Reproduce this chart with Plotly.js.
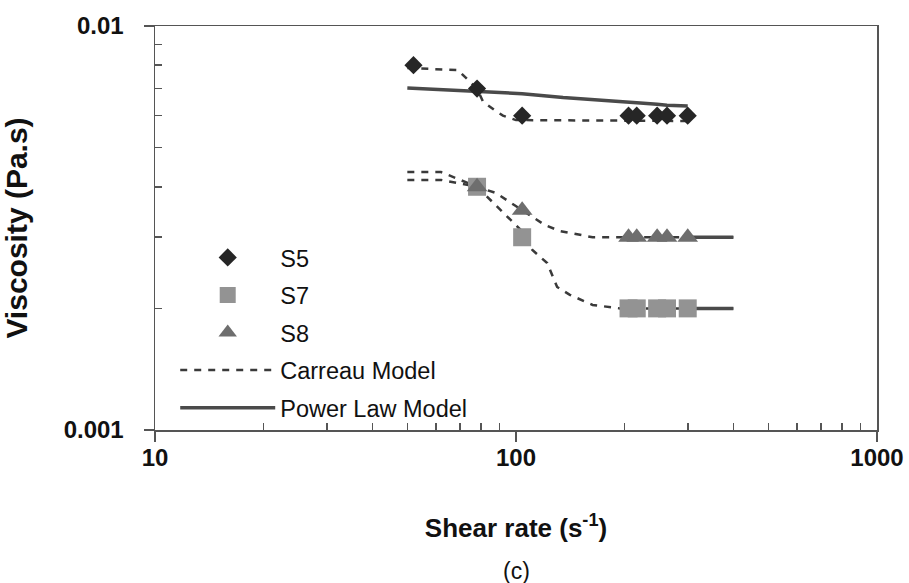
<!DOCTYPE html>
<html>
<head>
<meta charset="utf-8">
<script src="https://cdn.plot.ly/plotly-3.0.1.min.js"></script>
<style>html,body{margin:0;padding:0;background:#fff;}#chart{width:909px;height:583px;}</style>
</head>
<body>
<div id="chart"></div>
<script>
// Measured data (shear rate in 1/s, viscosity in Pa.s)
const shearS5 = [52, 78, 104, 205, 216, 246, 262, 299];
const viscS5  = [0.0080, 0.0070, 0.0060, 0.0060, 0.0060, 0.0060, 0.0060, 0.0060];
const shearS7 = [78, 104, 205, 216, 246, 262, 299];
const viscS7  = [0.0040, 0.0030, 0.0020, 0.0020, 0.0020, 0.0020, 0.0020];
const shearS8 = [78, 104, 205, 216, 246, 262, 299];
const viscS8  = [0.0040, 0.0035, 0.0030, 0.0030, 0.0030, 0.0030, 0.0030];

// Carreau model curves
const carreauS5X = [50, 69, 78, 81, 87, 92, 100, 303];
const carreauS5Y = [0.00787, 0.00778, 0.0070, 0.0065, 0.0062, 0.0060, 0.00585, 0.00582];
const carreauS7X = [50, 62, 78, 103, 111, 122, 130, 141, 163, 194, 400];
const carreauS7Y = [0.00416, 0.00416, 0.0040, 0.00313, 0.00279, 0.00259, 0.00226, 0.00216, 0.00204, 0.0020, 0.0020];
const carreauS8X = [50, 62, 78, 88, 104, 120, 132, 163, 400];
const carreauS8Y = [0.00435, 0.00435, 0.0040, 0.00386, 0.0035, 0.00322, 0.00311, 0.0030, 0.0030];

// Power law model curves
const powerS5X = [50, 78, 104, 135, 205, 216, 246, 262, 299];
const powerS5Y = [0.00702, 0.00690, 0.00680, 0.00665, 0.00650, 0.00646, 0.00640, 0.00637, 0.00634];
const powerS7X = [300, 400];
const powerS7Y = [0.0020, 0.0020];
const powerS8X = [300, 400];
const powerS8Y = [0.0030, 0.0030];

// Tick labels
const xTickVals = [10, 100, 1000];
const xTickText = ['10', '100', '1000'];
const xMinorVals = [20, 30, 40, 50, 60, 70, 80, 90, 200, 300, 400, 500, 600, 700, 800, 900];
const yTickVals = [0.001, 0.01];
const yTickText = ['0.001', '0.01'];
const yMinorVals = [0.002, 0.003, 0.004, 0.005, 0.006, 0.007, 0.008, 0.009];

const FONT = 'Liberation Sans, Arial, sans-serif';
const dashStyle = '7px,7px';
const dashColor = '#3a3a3a';
const solidColor = '#4a4a4a';

const traces = [
  {x: carreauS5X, y: carreauS5Y, mode: 'lines', name: 'Carreau Model', legendgroup: 'c', legendrank: 4,
   line: {color: dashColor, width: 2.5, dash: dashStyle}, showlegend: true},
  {x: carreauS7X, y: carreauS7Y, mode: 'lines', name: 'Carreau Model', legendgroup: 'c',
   line: {color: dashColor, width: 2.5, dash: dashStyle}, showlegend: false},
  {x: carreauS8X, y: carreauS8Y, mode: 'lines', name: 'Carreau Model', legendgroup: 'c',
   line: {color: dashColor, width: 2.5, dash: dashStyle}, showlegend: false},
  {x: powerS5X, y: powerS5Y, mode: 'lines', name: 'Power Law Model', legendgroup: 'p', legendrank: 5,
   line: {color: solidColor, width: 3.5}, showlegend: true},
  {x: powerS7X, y: powerS7Y, mode: 'lines', name: 'Power Law Model', legendgroup: 'p',
   line: {color: solidColor, width: 3.5}, showlegend: false},
  {x: powerS8X, y: powerS8Y, mode: 'lines', name: 'Power Law Model', legendgroup: 'p',
   line: {color: solidColor, width: 3.5}, showlegend: false},
  {x: shearS5, y: viscS5, mode: 'markers', name: 'S5', legendgroup: 's5', legendrank: 1,
   marker: {symbol: 'diamond', size: 14, color: '#262626'}},
  {x: shearS7, y: viscS7, mode: 'markers', name: 'S7', legendgroup: 's7', legendrank: 2,
   marker: {symbol: 'square', size: 18, color: '#939393'}},
  {x: shearS8, y: viscS8, mode: 'markers', name: 'S8', legendgroup: 's8', legendrank: 3,
   marker: {symbol: 'triangle-up', size: 18, color: '#6e6e6e'}}
];

const axisCommon = {
  type: 'log', showgrid: false, zeroline: false,
  showline: true, linecolor: '#555', linewidth: 1.5, mirror: true,
  ticks: 'outside', ticklen: 10, tickwidth: 1.5, tickcolor: '#555',
  tickfont: {family: FONT, size: 24, color: '#111', weight: 'bold'}
};

const layout = {
  width: 909, height: 583,
  margin: {l: 155, r: 32, t: 26, b: 153},
  paper_bgcolor: '#fff', plot_bgcolor: '#fff',
  showlegend: true,
  legend: {
    x: 0.028, y: 0.481, xanchor: 'left', yanchor: 'top',
    bgcolor: 'rgba(0,0,0,0)', borderwidth: 0,
    font: {family: FONT, size: 23.5, color: '#111'},
    itemwidth: 95, tracegroupgap: 4, traceorder: 'grouped'
  },
  xaxis: Object.assign({}, axisCommon, {
    range: [1, 3], tickmode: 'array', tickvals: xTickVals, ticktext: xTickText,
    ticklabelstandoff: -4,
    minor: {tickmode: 'array', tickvals: xMinorVals, ticks: 'inside', ticklen: 7, tickwidth: 1.5, tickcolor: '#555', showgrid: false},
    title: {text: 'Shear rate (s<sup>-1</sup>)', font: {family: FONT, size: 26, color: '#111', weight: 'bold'}, standoff: 48}
  }),
  yaxis: Object.assign({}, axisCommon, {
    range: [-3, -2], tickmode: 'array', tickvals: yTickVals, ticktext: yTickText,
    ticklabelstandoff: 15,
    minor: {tickmode: 'array', tickvals: yMinorVals, ticks: 'inside', ticklen: 7, tickwidth: 1.5, tickcolor: '#555', showgrid: false},
    title: {text: 'Viscosity (Pa.s)', font: {family: FONT, size: 30, color: '#111', weight: 'bold'}, standoff: 30}
  }),
  annotations: [
    {text: '(c)', xref: 'paper', yref: 'paper', x: 0.5, y: -0.35, xanchor: 'center', yanchor: 'middle',
     showarrow: false, font: {family: FONT, size: 23, color: '#111'}}
  ]
};

Plotly.newPlot('chart', traces, layout, {displayModeBar: false, staticPlot: true});
</script>
</body>
</html>
